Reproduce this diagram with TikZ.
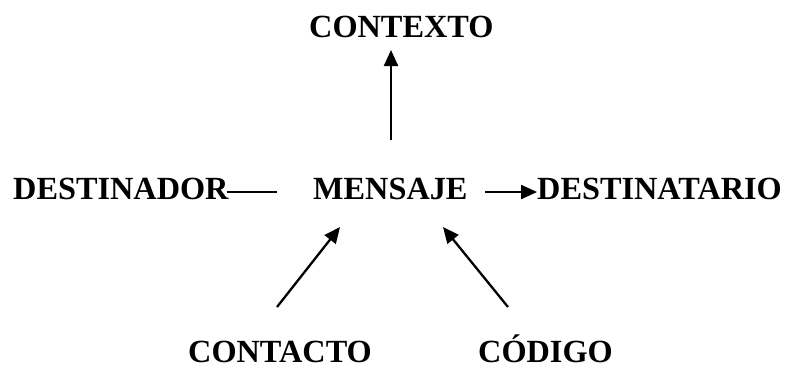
\documentclass[tikz,border=0pt]{standalone}
\usepackage{fontspec}
\setmainfont{Liberation Serif}
\usetikzlibrary{arrows.meta}
\begin{document}
\begin{tikzpicture}[x=1pt,y=-1pt,
  lbl/.style={anchor=base west,inner sep=0pt,text depth=0pt,font=\fontsize{32.3}{36}\selectfont\bfseries},
  conn/.style={line width=2.3pt},
  arr/.style={conn,-{Triangle[length=16pt,width=14pt]}}]
\useasboundingbox (0,0) rectangle (785,365);
\node[lbl] (contexto) at (309,37) {CONTEXTO};
\node[lbl] (destinador) at (13,199) {DESTINADOR};
\node[lbl] (mensaje) at (313,199) {MENSAJE};
\node[lbl] (destinatario) at (537,199) {DESTINATARIO};
\node[lbl] (contacto) at (188,362) {CONTACTO};
\node[lbl] (codigo) at (478,362) {CÓDIGO};
\coordinate (upS) at (391,140);
\coordinate (upE) at (391,50);
\coordinate (lS) at (227,192);
\coordinate (lE) at (277,192);
\coordinate (rS) at (485,192);
\coordinate (rE) at (537,192);
\coordinate (blS) at (277,307);
\coordinate (blE) at (340,227);
\coordinate (brS) at (508,307);
\coordinate (brE) at (443,227);
\draw[arr] (upS) -- (upE);
\draw[conn] (lS) -- (lE);
\draw[arr] (rS) -- (rE);
\draw[arr] (blS) -- (blE);
\draw[arr] (brS) -- (brE);
\end{tikzpicture}
\end{document}
